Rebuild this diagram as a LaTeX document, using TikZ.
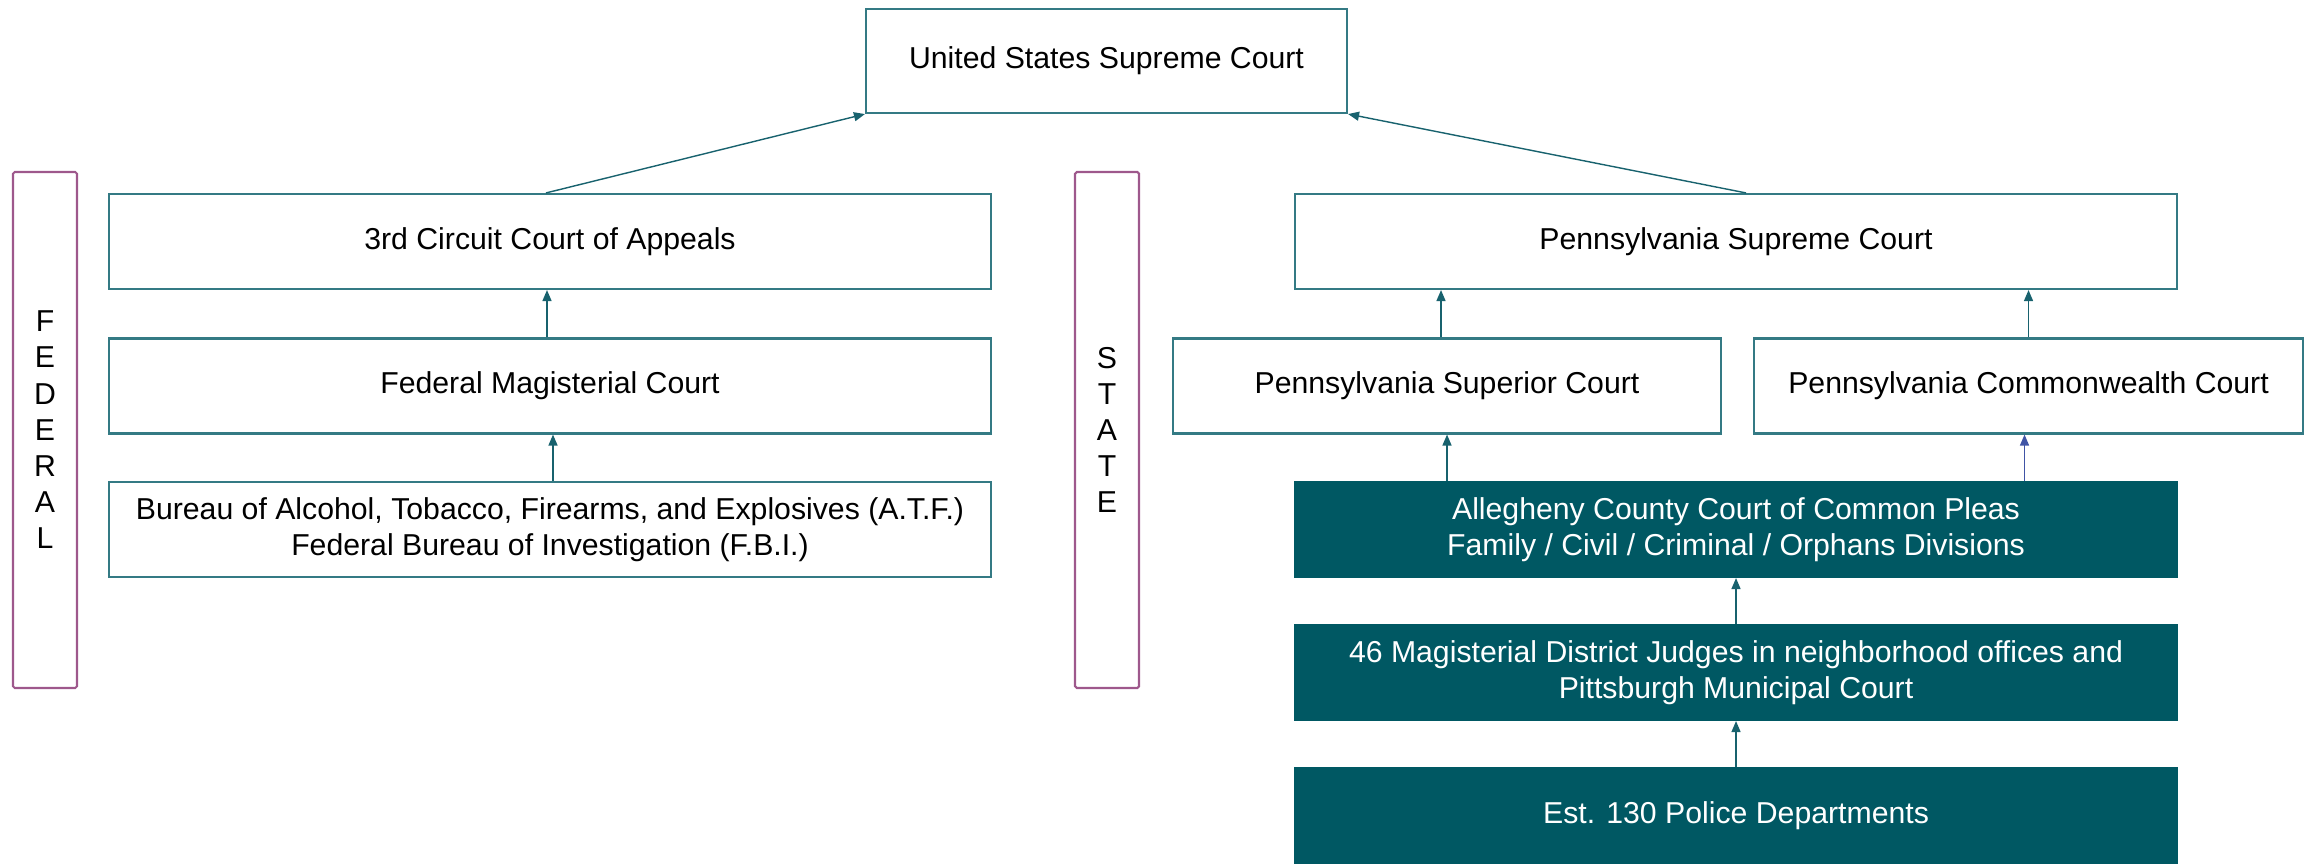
\documentclass[tikz,border=0pt]{standalone}
\usepackage{fontspec}
\setmainfont{Liberation Sans}
\usepackage{tikz}
\usetikzlibrary{arrows.meta}

\definecolor{courtline}{RGB}{52,122,132}
\definecolor{courtfill}{RGB}{0,88,99}
\definecolor{arrowteal}{RGB}{24,98,110}
\definecolor{arrowblue}{RGB}{64,84,165}
\definecolor{sideline}{RGB}{158,88,140}

\begin{document}
\begin{tikzpicture}[
        court/.style={draw=courtline, line width=0.6pt, fill=white, inner sep=0pt, align=center,
            minimum width=#1, minimum height=0.95cm, font=\fontsize{8.6}{10.3}\selectfont},
        court/.default=8.82cm,
        lower/.style={court=8.82cm, fill=courtfill, draw=courtfill, text=white},
        side/.style={draw=sideline, line width=0.6pt, rounded corners=0.5pt, inner sep=0pt, align=center,
            minimum width=0.64cm, minimum height=5.16cm, font=\fontsize{8.6}{10.3}\selectfont},
        up/.style={draw=arrowteal, line width=0.4pt, -{Triangle[length=1.1mm,width=0.9mm]}},
    ]
    \useasboundingbox (0,0) rectangle (23.1,8.63);
    % top
    \node[court=4.81cm, minimum height=1.04cm] (ussc) at (11.065,8.02) {United States Supreme Court};
    % federal side
    \node[side] (federal) at (0.45,4.33) {F\\E\\D\\E\\R\\A\\L};
    \node[court] (circuit) at (5.50,6.215) {3rd Circuit Court of Appeals};
    \node[court] (fedmag) at (5.50,4.77) {Federal Magisterial Court};
    \node[court] (bureau) at (5.50,3.335) {Bureau of Alcohol, Tobacco, Firearms, and Explosives (A.T.F.)\\Federal Bureau of Investigation (F.B.I.)};
    % state side
    \node[side] (state) at (11.07,4.33) {S\\T\\A\\T\\E};
    \node[court] (pasc) at (17.36,6.215) {Pennsylvania Supreme Court};
    \node[court=5.48cm] (superior) at (14.47,4.77) {Pennsylvania Superior Court};
    \node[court=5.49cm] (commonw) at (20.285,4.77) {Pennsylvania Commonwealth Court};
    \node[lower] (allegheny) at (17.36,3.335) {Allegheny County Court of Common Pleas\\Family / Civil / Criminal / Orphans Divisions};
    \node[lower] (district) at (17.36,1.905) {46 Magisterial District Judges in neighborhood offices and\\Pittsburgh Municipal Court};
    \node[lower] (police) at (17.36,0.475) {Est. 130 Police Departments};
    % appeals
    \draw[up] ([xshift=-0.04cm]circuit.north) -- (ussc.south west);
    \draw[up] ([xshift=0.1cm]pasc.north) -- (ussc.south east);
    \draw[up] ([xshift=-0.03cm]fedmag.north) -- ([xshift=-0.03cm]circuit.south);
    \draw[up] ([xshift=0.03cm]bureau.north) -- ([xshift=0.03cm]fedmag.south);
    \draw[up] ([xshift=-0.06cm]superior.north) -- ([xshift=-0.06cm]superior.north |- pasc.south);
    \draw[up] (commonw.north) -- (commonw.north |- pasc.south);
    \draw[up] (superior.south |- allegheny.north) -- (superior.south);
    \draw[up, draw=arrowblue] ([xshift=-0.04cm]commonw.south |- allegheny.north) -- ([xshift=-0.04cm]commonw.south);
    \draw[up] (district.north) -- (allegheny.south);
    \draw[up] (police.north) -- (district.south);
\end{tikzpicture}
\end{document}
